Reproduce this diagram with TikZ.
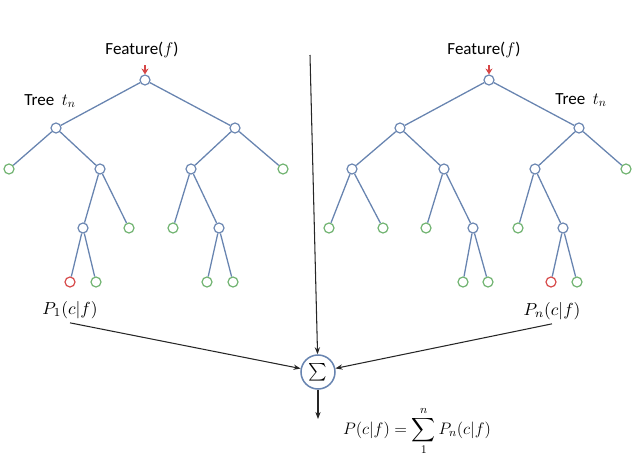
\documentclass[tikz,border=0pt]{standalone}
\usepackage{fix-cm}
\usepackage{amsmath,amssymb}
\usepackage{graphicx}
\usepackage{fontspec}
\setmainfont{Carlito}
\usepackage{tikz}
\usetikzlibrary{arrows.meta,positioning}
\definecolor{rfblue}{RGB}{104,132,176}
\definecolor{rfgreen}{RGB}{110,178,110}
\definecolor{rfred}{RGB}{214,70,70}

\begin{document}
\begin{tikzpicture}[x=0.03cm,y=-0.03cm,
  inode/.style={circle,draw=rfblue,fill=white,line width=1pt,minimum size=0.3cm,inner sep=0pt},
  leaf/.style={inode,draw=rfgreen},
  hit/.style={inode,draw=rfred},
  edge/.style={draw=rfblue,line width=1.1pt},
  flow/.style={black!85,line width=0.9pt,-{Stealth[length=6pt,width=4.5pt]}},
  lbl/.style={font=\fontsize{14.5}{16}\selectfont},
  mlbl/.style={font=\fontsize{11}{13}\selectfont}]
\useasboundingbox (0,0) rectangle (640,473);
% left tree
\node[inode] (a0) at (145,80) {};
\node[inode] (a1) at (56,128) {};   \node[inode] (a2) at (235,128) {};
\node[leaf]  (a3) at (9,169) {};    \node[inode] (a4) at (100,169) {};
\node[inode] (a5) at (191,169) {};  \node[leaf]  (a6) at (283,169) {};
\node[inode] (a7) at (83,228) {};   \node[leaf]  (a8) at (129,228) {};
\node[leaf]  (a9) at (173,228) {};  \node[inode] (a10) at (219,228) {};
\node[hit]   (a11) at (70,282) {};  \node[leaf]  (a12) at (96,282) {};
\node[leaf]  (a13) at (207,282) {}; \node[leaf]  (a14) at (233,282) {};
\foreach \u/\v in {a0/a1,a0/a2,a1/a3,a1/a4,a4/a7,a4/a8,a7/a11,a7/a12,
                   a2/a5,a2/a6,a5/a9,a5/a10,a10/a13,a10/a14}
  \draw[edge] (\u) -- (\v);
\node[lbl] (fl) at (142,50) {Feature($f$)};
\coordinate (fla) at (145,65);
\draw[rfred,line width=1.1pt,-{Stealth[length=5pt,width=6pt]}] (fla) -- (a0);
\node[lbl] (tl) at (50,101) {Tree \ $t_n$};
% right tree
\node[inode] (b0) at (489,80) {};
\node[inode] (b1) at (400,128) {};  \node[inode] (b2) at (579,128) {};
\node[inode] (b3) at (352,169) {};  \node[inode] (b4) at (444,169) {};
\node[inode] (b5) at (535,169) {};  \node[leaf]  (b6) at (626,169) {};
\node[leaf]  (b7) at (329,228) {};  \node[leaf]  (b8) at (383,228) {};
\node[leaf]  (b9) at (426,228) {};  \node[inode] (b10) at (473,228) {};
\node[leaf]  (b11) at (518,228) {}; \node[inode] (b12) at (563,228) {};
\node[leaf]  (b13) at (463,282) {}; \node[leaf]  (b14) at (488,282) {};
\node[hit]   (b15) at (551,282) {}; \node[leaf]  (b16) at (577,282) {};
\foreach \u/\v in {b0/b1,b0/b2,b1/b3,b1/b4,b3/b7,b3/b8,b4/b9,b4/b10,
                   b10/b13,b10/b14,b2/b5,b2/b6,b5/b11,b5/b12,b12/b15,b12/b16}
  \draw[edge] (\u) -- (\v);
\node[lbl] (fr) at (484,50) {Feature($f$)};
\coordinate (fra) at (489,65);
\draw[rfred,line width=1.1pt,-{Stealth[length=5pt,width=6pt]}] (fra) -- (b0);
\node[lbl] (tr) at (581,100) {Tree \ $t_n$};
% combination
\node[circle,draw=rfblue,line width=1.3pt,minimum size=1.02cm,inner sep=0pt,
      font=\fontsize{15}{17}\selectfont] (sig) at (318,372) {$\sum$};
\coordinate (top) at (310,55);
\draw[flow] (top) -- (sig);
\node[mlbl] (p1) at (70,310) {\scalebox{1.35}{$P_1(c|f)$}};
\node[mlbl] (pn) at (552,311) {\scalebox{1.35}{$P_n(c|f)$}};
\draw[flow] (p1.south) -- (sig);
\draw[flow] (pn.south) -- (sig);
\coordinate (out) at (318,419);
\draw[flow] (sig) -- (out);
\node[font=\fontsize{14.2}{16}\selectfont] (res) at (417,431)
  {$P(c|f) = \displaystyle\sum_{1}^{n} P_n(c|f)$};
\end{tikzpicture}
\end{document}
